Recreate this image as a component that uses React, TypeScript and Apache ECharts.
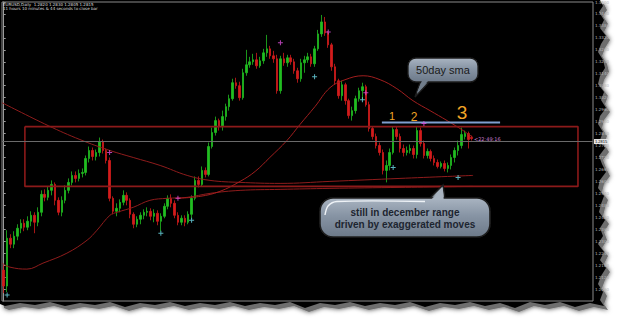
import React, { useEffect, useRef } from 'react';
import * as echarts from 'echarts';

// ---------- data ----------
const SLOTS = 173; // bar slots on the time axis (incl. empty chart shift on the right)
const categories: string[] = Array.from({ length: SLOTS }, (_, i) => `D${i + 1}`);

// [open, close, low, high]
const ohlc: number[][] = [
  [1.2155, 1.2075, 1.2040, 1.2180],
  [1.2075, 1.2315, 1.2045, 1.2355],
  [1.2315, 1.2285, 1.2265, 1.2335],
  [1.2285, 1.2325, 1.2265, 1.2350],
  [1.2325, 1.2365, 1.2305, 1.2385],
  [1.2365, 1.2390, 1.2340, 1.2410],
  [1.2390, 1.2370, 1.2350, 1.2410],
  [1.2370, 1.2400, 1.2355, 1.2425],
  [1.2400, 1.2430, 1.2375, 1.2450],
  [1.2430, 1.2395, 1.2340, 1.2445],
  [1.2395, 1.2445, 1.2375, 1.2470],
  [1.2445, 1.2535, 1.2425, 1.2555],
  [1.2535, 1.2520, 1.2500, 1.2560],
  [1.2520, 1.2555, 1.2505, 1.2575],
  [1.2555, 1.2585, 1.2530, 1.2605],
  [1.2585, 1.2505, 1.2480, 1.2595],
  [1.2505, 1.2445, 1.2430, 1.2520],
  [1.2445, 1.2505, 1.2425, 1.2525],
  [1.2505, 1.2555, 1.2490, 1.2580],
  [1.2555, 1.2595, 1.2540, 1.2615],
  [1.2595, 1.2630, 1.2580, 1.2650],
  [1.2630, 1.2615, 1.2595, 1.2650],
  [1.2615, 1.2640, 1.2600, 1.2660],
  [1.2640, 1.2645, 1.2620, 1.2665],
  [1.2645, 1.2715, 1.2630, 1.2730],
  [1.2715, 1.2755, 1.2695, 1.2775],
  [1.2755, 1.2725, 1.2705, 1.2770],
  [1.2725, 1.2745, 1.2705, 1.2760],
  [1.2745, 1.2800, 1.2725, 1.2820],
  [1.2800, 1.2755, 1.2740, 1.2810],
  [1.2755, 1.2705, 1.2690, 1.2765],
  [1.2705, 1.2515, 1.2500, 1.2720],
  [1.2515, 1.2450, 1.2435, 1.2525],
  [1.2450, 1.2465, 1.2425, 1.2490],
  [1.2465, 1.2495, 1.2445, 1.2510],
  [1.2495, 1.2530, 1.2480, 1.2555],
  [1.2530, 1.2505, 1.2480, 1.2545],
  [1.2505, 1.2435, 1.2415, 1.2515],
  [1.2435, 1.2385, 1.2365, 1.2445],
  [1.2385, 1.2410, 1.2370, 1.2425],
  [1.2410, 1.2430, 1.2385, 1.2445],
  [1.2430, 1.2445, 1.2410, 1.2460],
  [1.2445, 1.2450, 1.2425, 1.2470],
  [1.2450, 1.2425, 1.2405, 1.2465],
  [1.2425, 1.2440, 1.2395, 1.2460],
  [1.2440, 1.2400, 1.2380, 1.2455],
  [1.2400, 1.2425, 1.2350, 1.2440],
  [1.2425, 1.2475, 1.2415, 1.2490],
  [1.2475, 1.2515, 1.2460, 1.2530],
  [1.2515, 1.2490, 1.2470, 1.2535],
  [1.2490, 1.2430, 1.2415, 1.2505],
  [1.2430, 1.2395, 1.2380, 1.2445],
  [1.2395, 1.2415, 1.2380, 1.2430],
  [1.2415, 1.2395, 1.2375, 1.2430],
  [1.2395, 1.2435, 1.2385, 1.2450],
  [1.2435, 1.2515, 1.2415, 1.2530],
  [1.2515, 1.2605, 1.2505, 1.2625],
  [1.2605, 1.2585, 1.2570, 1.2625],
  [1.2585, 1.2655, 1.2575, 1.2675],
  [1.2655, 1.2635, 1.2620, 1.2670],
  [1.2635, 1.2775, 1.2625, 1.2795],
  [1.2775, 1.2845, 1.2765, 1.2870],
  [1.2845, 1.2905, 1.2830, 1.2925],
  [1.2905, 1.2875, 1.2855, 1.2915],
  [1.2875, 1.2925, 1.2855, 1.2955],
  [1.2925, 1.2975, 1.2905, 1.2990],
  [1.2975, 1.3015, 1.2955, 1.3035],
  [1.3015, 1.3095, 1.3005, 1.3115],
  [1.3095, 1.3080, 1.3065, 1.3120],
  [1.3080, 1.3020, 1.3005, 1.3100],
  [1.3020, 1.3145, 1.3010, 1.3165],
  [1.3145, 1.3185, 1.3130, 1.3260],
  [1.3185, 1.3200, 1.3170, 1.3225],
  [1.3200, 1.3210, 1.3185, 1.3240],
  [1.3210, 1.3180, 1.3165, 1.3245],
  [1.3180, 1.3205, 1.3170, 1.3225],
  [1.3205, 1.3245, 1.3190, 1.3265],
  [1.3245, 1.3265, 1.3225, 1.3335],
  [1.3265, 1.3230, 1.3215, 1.3280],
  [1.3230, 1.3215, 1.3195, 1.3255],
  [1.3215, 1.3055, 1.3040, 1.3235],
  [1.3055, 1.3215, 1.3040, 1.3230],
  [1.3215, 1.3195, 1.3180, 1.3245],
  [1.3195, 1.3220, 1.3175, 1.3235],
  [1.3220, 1.3200, 1.3185, 1.3235],
  [1.3200, 1.3155, 1.3140, 1.3215],
  [1.3155, 1.3115, 1.3095, 1.3170],
  [1.3115, 1.3195, 1.3100, 1.3215],
  [1.3195, 1.3210, 1.3145, 1.3230],
  [1.3210, 1.3225, 1.3195, 1.3245],
  [1.3225, 1.3190, 1.3175, 1.3240],
  [1.3190, 1.3265, 1.3175, 1.3280],
  [1.3265, 1.3340, 1.3255, 1.3360],
  [1.3340, 1.3400, 1.3325, 1.3435],
  [1.3400, 1.3345, 1.3330, 1.3425],
  [1.3345, 1.3285, 1.3270, 1.3355],
  [1.3285, 1.3175, 1.3155, 1.3295],
  [1.3175, 1.3105, 1.3085, 1.3190],
  [1.3105, 1.3030, 1.3015, 1.3115],
  [1.3030, 1.3085, 1.3005, 1.3105],
  [1.3085, 1.3005, 1.2985, 1.3095],
  [1.3005, 1.2930, 1.2915, 1.3015],
  [1.2930, 1.2955, 1.2905, 1.2975],
  [1.2955, 1.3015, 1.2940, 1.3030],
  [1.3015, 1.3055, 1.3000, 1.3070],
  [1.3055, 1.3075, 1.3010, 1.3095],
  [1.3075, 1.2985, 1.2975, 1.3085],
  [1.2985, 1.2865, 1.2850, 1.3000],
  [1.2865, 1.2825, 1.2810, 1.2875],
  [1.2825, 1.2780, 1.2765, 1.2840],
  [1.2780, 1.2745, 1.2730, 1.2795],
  [1.2745, 1.2655, 1.2635, 1.2760],
  [1.2655, 1.2680, 1.2595, 1.2705],
  [1.2680, 1.2745, 1.2655, 1.2765],
  [1.2745, 1.2860, 1.2735, 1.2875],
  [1.2860, 1.2825, 1.2810, 1.2875],
  [1.2825, 1.2765, 1.2745, 1.2840],
  [1.2765, 1.2745, 1.2725, 1.2785],
  [1.2745, 1.2755, 1.2730, 1.2775],
  [1.2755, 1.2765, 1.2740, 1.2785],
  [1.2765, 1.2735, 1.2715, 1.2780],
  [1.2735, 1.2855, 1.2715, 1.2875],
  [1.2855, 1.2790, 1.2775, 1.2870],
  [1.2790, 1.2730, 1.2715, 1.2805],
  [1.2730, 1.2750, 1.2715, 1.2765],
  [1.2750, 1.2715, 1.2700, 1.2760],
  [1.2715, 1.2695, 1.2680, 1.2730],
  [1.2695, 1.2675, 1.2665, 1.2710],
  [1.2675, 1.2690, 1.2665, 1.2700],
  [1.2690, 1.2665, 1.2650, 1.2705],
  [1.2665, 1.2680, 1.2645, 1.2695],
  [1.2680, 1.2720, 1.2660, 1.2735],
  [1.2720, 1.2755, 1.2695, 1.2770],
  [1.2755, 1.2780, 1.2730, 1.2805],
  [1.2780, 1.2835, 1.2765, 1.2870],
  [1.2825, 1.2840, 1.2810, 1.2855],
  [1.2840, 1.2810, 1.2765, 1.2850],
  [1.2820, 1.2815, 1.2805, 1.2830],
];

// fractal markers [bar index, price]
const fractalUp: number[][] = [
  [31, 1.2745], [51, 1.2515], [81, 1.3295], [95, 1.3350], [106, 1.3045], [123, 1.2890],
];
const fractalDown: number[][] = [
  [1, 1.2030], [46, 1.2340], [55, 1.2405], [91, 1.3125], [105, 1.3010], [114, 1.2670], [133, 1.2620],
];

// moving averages [bar position, price]
const maLong: number[][] = [
  [-0.5, 1.2995], [13.0, 1.2880], [22.3, 1.2810], [31.1, 1.2755], [37.9, 1.2720], [45.8, 1.2680],
  [53.7, 1.2630], [60.4, 1.2605], [69.2, 1.2595], [80.9, 1.2590], [95.5, 1.2600], [116.0, 1.2615],
  [137.4, 1.2630],
];
const maMid: number[][] = [
  [-0.5, 1.2190], [1.8, 1.2170], [6.8, 1.2160], [11.5, 1.2190], [18.5, 1.2240], [24.4, 1.2305],
  [27.3, 1.2355], [31.1, 1.2430], [33.2, 1.2445], [37.9, 1.2470], [42.8, 1.2505], [47.8, 1.2515],
  [53.7, 1.2520], [60.4, 1.2540], [69.2, 1.2555], [80.9, 1.2560], [95.5, 1.2565], [116.0, 1.2570],
  [137.4, 1.2575],
];
const sma50: number[][] = [
  [50.4, 1.2515], [57.5, 1.2525], [63.3, 1.2550], [69.2, 1.2600], [73.6, 1.2650], [77.9, 1.2720],
  [82.9, 1.2805], [86.7, 1.2885], [91.1, 1.2975], [95.5, 1.3070], [99.9, 1.3110], [105.2, 1.3130],
  [110.2, 1.3110], [115.1, 1.3065], [119.8, 1.3005], [124.8, 1.2955], [129.8, 1.2905],
  [134.5, 1.2855], [137.4, 1.2820],
];

// drawn objects
const rangeLeft = 6.2;
const rangeRight = 168.1;
const rangeTop = 1.2875;
const rangeBottom = 1.2575;
const resistanceStart = 110.7;
const resistanceEnd = 145.3;
const resistancePrice = 1.2895;
const currentPrice = 1.2815;

// price axis
const yMin = 1.2;
const yMax = 1.35;
const yStep = 0.006;

const titleLine1 = 'EURUSD,Daily  1.2820 1.2830 1.2805 1.2815';
const titleLine2 = '11 hours 10 minutes & 44 seconds to close bar';

// ---------- decorative torn-paper outline ----------
const tornEdge: number[][] = [
  [0, 0], [600, 0], [603, 6], [599, 12], [604, 20], [600, 28], [606, 36], [601, 44], [598, 52], [603, 60],
  [605, 68], [600, 76], [598, 84], [604, 92], [601, 100], [606, 108], [600, 116], [598, 124], [603, 132],
  [600, 140], [605, 148], [599, 156], [602, 164], [606, 172], [600, 180], [598, 188], [604, 196],
  [601, 204], [599, 212], [605, 220], [600, 228], [603, 236], [598, 244], [604, 252], [600, 260],
  [606, 268], [601, 276], [598, 284], [603, 292], [600, 300], [604, 306],
  [590, 303], [575, 307], [560, 302], [545, 305], [530, 302], [515, 308], [500, 303], [485, 306],
  [470, 302], [455, 305], [440, 303], [425, 307], [410, 302], [395, 305], [380, 303], [365, 306],
  [350, 302], [335, 305], [320, 303], [305, 308], [290, 302], [275, 305], [260, 303], [245, 306],
  [230, 302], [215, 305], [200, 303], [185, 306], [170, 302], [155, 305], [140, 303], [125, 307],
  [110, 302], [95, 305], [80, 303], [65, 306], [50, 302], [35, 305], [20, 303], [5, 306], [0, 304],
];

const bubbleFill = () =>
  new echarts.graphic.LinearGradient(0, 0, 0, 1, [
    { offset: 0, color: '#a9b4c1' },
    { offset: 0.45, color: '#8794a4' },
    { offset: 1, color: '#6c7989' },
  ]);

export default function App() {
  const ref = useRef<HTMLDivElement>(null);

  useEffect(() => {
    document.body.style.margin = '0';
    document.body.style.background = '#ffffff';
    const chart = echarts.init(ref.current!, null, { renderer: 'svg' });

    const boxData = [
      [rangeLeft, rangeTop], [rangeRight, rangeTop], [rangeRight, rangeBottom],
      [rangeLeft, rangeBottom], [rangeLeft, rangeTop],
    ];
    const resData = [[resistanceStart, resistancePrice], [resistanceEnd, resistancePrice]];
    const cross = 'path://M2,0H3V2H5V3H3V5H2V3H0V2H2Z';
    const maStyle = { color: '#8e1c1c', width: 1 };

    const option: any = {
      animation: false,
      backgroundColor: '#ffffff',
      grid: {
        left: 2, top: 1, width: 591, height: 300,
        show: true, borderColor: '#8a8a8a', borderWidth: 1, backgroundColor: 'transparent', z: 1,
      },
      xAxis: [
        {
          type: 'category', data: categories, boundaryGap: true,
          axisLine: { show: false }, axisTick: { show: false }, axisLabel: { show: false },
          splitLine: { show: false },
        },
        { type: 'value', min: -0.5, max: SLOTS - 0.5, show: false },
      ],
      yAxis: {
        type: 'value', position: 'right', min: yMin, max: yMax, interval: yStep, scale: true,
        axisLine: { show: true, lineStyle: { color: '#9a9a9a', width: 1 } },
        axisTick: { show: true, length: 2, lineStyle: { color: '#9a9a9a' } },
        splitLine: { show: false },
        axisLabel: {
          showMinLabel: false, fontSize: 4, color: '#b8b8b8', margin: 2,
          fontFamily: 'DejaVu Sans', formatter: (v: number) => v.toFixed(4),
        },
      },
      series: [
        {
          type: 'candlestick', name: 'EURUSD', data: ohlc, barWidth: 2, z: 2,
          itemStyle: {
            color: '#21bd21', color0: '#d21c1c', borderColor: '#21bd21', borderColor0: '#d21c1c', borderWidth: 0.8,
          },
          markLine: {
            silent: true, symbol: 'none', animation: false,
            data: [{ yAxis: currentPrice }],
            lineStyle: { color: '#6a6a6a', width: 1, type: 'solid' },
            label: {
              show: true, position: 'end', formatter: currentPrice.toFixed(4), fontSize: 4,
              color: '#000', backgroundColor: '#e6e6e6', padding: [1, 1, 0, 1], distance: 1,
            },
          },
        },
        { type: 'line', xAxisIndex: 1, data: maLong, smooth: 0.4, symbol: 'none', lineStyle: maStyle, z: 3 },
        { type: 'line', xAxisIndex: 1, data: maMid, smooth: 0.4, symbol: 'none', lineStyle: maStyle, z: 3 },
        { type: 'line', xAxisIndex: 1, data: sma50, smooth: 0.4, symbol: 'none', lineStyle: { color: '#a01e1e', width: 1 }, z: 3 },
        { type: 'line', xAxisIndex: 1, data: boxData, symbol: 'none', lineStyle: { color: '#8c1a1a', width: 1.6 }, z: 4 },
        { type: 'line', xAxisIndex: 1, data: resData, symbol: 'none', lineStyle: { color: '#7f9fd0', width: 2 }, z: 4 },
        { type: 'scatter', data: fractalUp, symbol: cross, symbolSize: 5, itemStyle: { color: '#e050e0' }, z: 5 },
        { type: 'scatter', data: fractalDown, symbol: cross, symbolSize: 5, itemStyle: { color: '#6fe0ee' }, z: 5 },
      ],
      graphic: [
        { type: 'polygon', z: -20, silent: true, x: 4, y: 4, shape: { points: tornEdge },
          style: { fill: '#6e6e6e', shadowBlur: 5, shadowColor: 'rgba(0,0,0,0.75)' } },
        { type: 'polygon', z: -10, silent: true, shape: { points: tornEdge }, style: { fill: '#000000' } },
        { type: 'text', z: 50, x: 3, y: 2, style: { text: titleLine1, fill: '#dcdcdc', font: '4px "DejaVu Sans"' } },
        { type: 'text', z: 50, x: 3, y: 6.5, style: { text: titleLine2, fill: '#dcdcdc', font: '4px "DejaVu Sans"' } },
        { type: 'text', z: 50, x: 474, y: 139, style: { text: '<22:49:16', fill: '#c47ccf', font: '5px "DejaVu Sans"', textVerticalAlign: 'middle' } },
        // numbered tops
        { type: 'text', z: 50, x: 392, y: 116, style: { text: '1', fill: '#f2a526', font: '11px "Liberation Sans"', textAlign: 'center', textVerticalAlign: 'middle' } },
        { type: 'text', z: 50, x: 414, y: 117, style: { text: '2', fill: '#f2a526', font: '12px "Liberation Sans"', textAlign: 'center', textVerticalAlign: 'middle' } },
        { type: 'text', z: 50, x: 462, y: 112, style: { text: '3', fill: '#f2a526', font: '19px "Liberation Sans"', textAlign: 'center', textVerticalAlign: 'middle' } },
        // 50day sma callout
        { type: 'polygon', z: 50, shape: { points: [[421, 80], [415, 97], [431, 80]] },
          style: { fill: '#727e8b', stroke: '#1e1e1e', lineWidth: 1.3 } },
        { type: 'rect', z: 51, shape: { x: 408, y: 58, width: 70, height: 24, r: 8 },
          style: { fill: bubbleFill(), stroke: '#1e1e1e', lineWidth: 1.3, shadowBlur: 3, shadowColor: 'rgba(0,0,0,0.6)' } },
        { type: 'polygon', z: 52, shape: { points: [[422.5, 79.5], [416.8, 93], [429.5, 79.5]] }, style: { fill: '#717d8b' } },
        { type: 'text', z: 53, x: 443, y: 70, style: { text: '50day sma', fill: '#1a1a1a', font: '11px "Liberation Sans"', textAlign: 'center', textVerticalAlign: 'middle' } },
        // december range callout
        { type: 'polygon', z: 50, shape: { points: [[429, 199], [443, 185], [445, 199]] },
          style: { fill: '#a8b3c0', stroke: '#1e1e1e', lineWidth: 1.5 } },
        { type: 'rect', z: 51, shape: { x: 320, y: 198, width: 170, height: 39, r: 13 },
          style: { fill: bubbleFill(), stroke: '#1e1e1e', lineWidth: 1.6, shadowBlur: 4, shadowColor: 'rgba(0,0,0,0.7)' } },
        { type: 'polygon', z: 52, shape: { points: [[430.8, 200], [442.6, 188], [443.8, 200]] }, style: { fill: '#a8b3c0' } },
        { type: 'polyline', z: 52, shape: { points: [[325, 215], [328, 206], [337, 201.5], [425, 201.5]], smooth: 0.3 },
          style: { stroke: '#eef2f6', lineWidth: 1.4, fill: 'none' } },
        { type: 'text', z: 53, x: 405, y: 212, style: { text: 'still in december range', fill: '#1d2530', font: 'bold 10px "Liberation Sans"', textAlign: 'center', textVerticalAlign: 'middle' } },
        { type: 'text', z: 53, x: 405, y: 224, style: { text: 'driven by exaggerated moves', fill: '#1d2530', font: 'bold 10px "Liberation Sans"', textAlign: 'center', textVerticalAlign: 'middle' } },
      ],
    };

    chart.setOption(option);
    return () => chart.dispose();
  }, []);

  return <div ref={ref} style={{ width: 625, height: 323 }} />;
}
